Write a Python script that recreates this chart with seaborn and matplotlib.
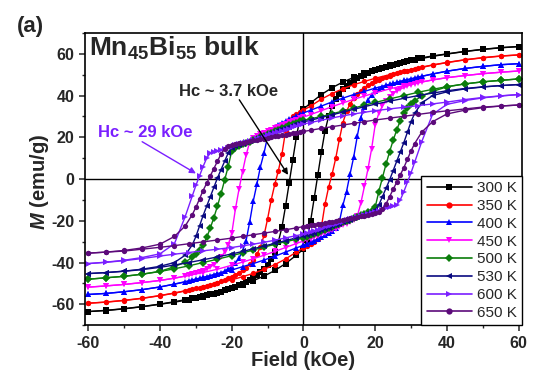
import pandas as pd
import seaborn as sns
import matplotlib.pyplot as plt
from matplotlib.lines import Line2D
from matplotlib.ticker import MultipleLocator

# field sweep (kOe), descending 60 -> -60 and ascending -60 -> 60
field_down = [60, 55, 50, 45, 40, 36, 32, 28, 24, 20, 17, 14, 11, 8, 5, 2, 0,
              -1, -2, -3, -4, -5, -6, -7, -8, -9, -10, -11, -12, -13, -14, -15,
              -16, -17, -18, -19, -20, -21, -22, -23, -24, -25, -26, -27, -28,
              -29, -30, -31, -33, -36, -40, -45, -50, -55, -60]
field_up = [-60, -55, -50, -45, -40, -36, -32, -28, -24, -20, -17, -14, -11, -8, -5, -2, 0,
            1, 2, 3, 4, 5, 6, 7, 8, 9, 10, 11, 12, 13, 14, 15,
            16, 17, 18, 19, 20, 21, 22, 23, 24, 25, 26, 27, 28,
            29, 30, 31, 33, 36, 40, 45, 50, 55, 60]

temps = ['300 K', '350 K', '400 K', '450 K', '500 K', '530 K', '600 K', '650 K']

# magnetization (emu/g)
m300_down = [63.5, 63.0, 62.2, 61.2, 60.0, 59.0, 57.8, 56.3, 54.5, 52.3, 50.6, 48.7, 46.5, 43.8, 40.5, 36.5, 33.5,
             29, 20, 9, -2, -13, -23, -30, -35, -38.5, -41, -43, -44.6, -46, -47.2, -48.3,
             -49.2, -50.1, -50.9, -51.6, -52.3, -52.9, -53.4, -53.9, -54.4, -54.9, -55.3, -55.7, -56.1,
             -56.5, -56.9, -57.2, -57.8, -58.8, -59.9, -61.1, -62.1, -62.9, -63.5]
m300_up = [-63.5, -63.0, -62.2, -61.2, -60.0, -59.0, -57.8, -56.3, -54.5, -52.3, -50.6, -48.7, -46.5, -43.8, -40.5, -36.5, -33.5,
           -29, -20, -9, 2, 13, 23, 30, 35, 38.5, 41, 43, 44.6, 46, 47.2, 48.3,
           49.2, 50.1, 50.9, 51.6, 52.3, 52.9, 53.4, 53.9, 54.4, 54.9, 55.3, 55.7, 56.1,
           56.5, 56.9, 57.2, 57.8, 58.8, 59.9, 61.1, 62.1, 62.9, 63.5]

m350_down = [59.5, 59.0, 58.2, 57.2, 55.9, 54.7, 53.3, 51.7, 50.0, 48.3, 46.8, 45.2, 43.3, 41.0, 38.3, 35.0, 33.0,
             32, 31, 30, 28.5, 23, 12, 4, -2.5, -10, -19, -27, -32.5, -36, -38.8, -40.8,
             -42.4, -43.7, -44.9, -45.9, -46.8, -47.6, -48.3, -49, -49.6, -50.2, -50.7, -51.2, -51.6,
             -52, -52.4, -52.8, -53.5, -54.6, -55.8, -57.1, -58.1, -58.9, -59.5]
m350_up = [-59.5, -59.0, -58.2, -57.2, -55.9, -54.7, -53.3, -51.7, -50.0, -48.3, -46.8, -45.2, -43.3, -41.0, -38.3, -35.0, -33.0,
           -32, -31, -30, -28.5, -23, -12, -4, 2.5, 10, 19, 27, 32.5, 36, 38.8, 40.8,
           42.4, 43.7, 44.9, 45.9, 46.8, 47.6, 48.3, 49, 49.6, 50.2, 50.7, 51.2, 51.6,
           52, 52.4, 52.8, 53.5, 54.6, 55.8, 57.1, 58.1, 58.9, 59.5]

m400_down = [55.3, 54.8, 54.0, 53.0, 51.7, 50.4, 48.9, 47.3, 45.4, 43.6, 42.0, 40.5, 38.8, 37.0, 35.0, 33.0, 31.7,
             31, 30.2, 29.5, 28.7, 27.9, 27, 26, 25, 23.5, 20.5, 12.5, 6, -2.5, -10.5, -20.5,
             -29.5, -34.5, -38, -40.3, -42, -43.2, -44.1, -44.9, -45.3, -45.8, -46.3, -46.7, -47.1,
             -47.5, -47.9, -48.3, -49.2, -50.3, -51.7, -53.0, -54.0, -54.8, -55.3]
m400_up = [-55.3, -54.8, -54.0, -53.0, -51.7, -50.4, -48.9, -47.3, -45.4, -43.6, -42.0, -40.5, -38.8, -37.0, -35.0, -33.0, -31.7,
           -31, -30.2, -29.5, -28.7, -27.9, -27, -26, -25, -23.5, -20.5, -12.5, -6, 2.5, 10.5, 20.5,
           29.5, 34.5, 38, 40.3, 42, 43.2, 44.1, 44.9, 45.3, 45.8, 46.3, 46.7, 47.1,
           47.5, 47.9, 48.3, 49.2, 50.3, 51.7, 53.0, 54.0, 54.8, 55.3]

m450_down = [51.8, 51.2, 50.5, 49.6, 48.6, 47.5, 46.2, 44.8, 43.2, 41.3, 39.8, 38.2, 36.5, 34.7, 32.8, 30.9, 29.7,
             29.1, 28.5, 27.9, 27.2, 26.5, 25.8, 25.1, 24.4, 23.7, 23, 22.2, 21.4, 20.6, 19.6, 17.8,
             11.5, 3.5, -5, -14.5, -26, -31.5, -35, -37.5, -39.5, -41, -42.2, -43.1, -43.9,
             -44.6, -45.2, -45.7, -46.5, -47.5, -48.6, -49.6, -50.5, -51.2, -51.8]
m450_up = [-51.8, -51.2, -50.5, -49.6, -48.6, -47.5, -46.2, -44.8, -43.2, -41.3, -39.8, -38.2, -36.5, -34.7, -32.8, -30.9, -29.7,
           -29.1, -28.5, -27.9, -27.2, -26.5, -25.8, -25.1, -24.4, -23.7, -23, -22.2, -21.4, -20.6, -19.6, -17.8,
           -11.5, -3.5, 5, 14.5, 26, 31.5, 35, 37.5, 39.5, 41, 42.2, 43.1, 43.9,
           44.6, 45.2, 45.7, 46.5, 47.5, 48.6, 49.6, 50.5, 51.2, 51.8]

m500_down = [48.0, 47.3, 46.6, 45.6, 44.3, 43.0, 41.6, 40.0, 38.4, 36.7, 35.4, 34.0, 32.6, 31.3, 30.0, 28.9, 28.2,
             27.6, 27, 26.3, 25.7, 25, 24.3, 23.6, 22.9, 22.2, 21.5, 20.8, 20.1, 19.4, 18.7, 18,
             17.3, 16.6, 15.9, 15.1, 13.5, 6, -0.5, -7, -13, -18.5, -23.5, -28, -31.5,
             -34, -36, -37.5, -39.8, -42, -44.2, -45.6, -46.6, -47.3, -48.0]
m500_up = [-48.0, -47.3, -46.6, -45.6, -44.3, -43.0, -41.6, -40.0, -38.4, -36.7, -35.4, -34.0, -32.6, -31.3, -30.0, -28.9, -28.2,
           -27.6, -27, -26.3, -25.7, -25, -24.3, -23.6, -22.9, -22.2, -21.5, -20.8, -20.1, -19.4, -18.7, -18,
           -17.3, -16.6, -15.9, -15.1, -13.5, -6, 0.5, 7, 13, 18.5, 23.5, 28, 31.5,
           34, 36, 37.5, 39.8, 42, 44.2, 45.6, 46.6, 47.3, 48.0]

m530_down = [45.3, 44.8, 44.2, 43.4, 42.3, 41.2, 40.0, 38.7, 37.3, 35.9, 34.7, 33.4, 32.1, 30.8, 29.5, 28.2, 27.4,
             26.9, 26.3, 25.7, 25.1, 24.5, 23.9, 23.3, 22.6, 22, 21.4, 20.7, 20.1, 19.5, 18.8, 18.2,
             17.6, 17, 16.3, 15.7, 15, 12.5, 8.5, 4.5, 0.5, -4, -8.5, -13, -17.5,
             -22.5, -27.5, -31.5, -36.5, -40.0, -41.8, -43.2, -44.1, -44.8, -45.3]
m530_up = [-45.3, -44.8, -44.2, -43.4, -42.3, -41.2, -40.0, -38.7, -37.3, -35.9, -34.7, -33.4, -32.1, -30.8, -29.5, -28.2, -27.4,
           -26.9, -26.3, -25.7, -25.1, -24.5, -23.9, -23.3, -22.6, -22, -21.4, -20.7, -20.1, -19.5, -18.8, -18.2,
           -17.6, -17, -16.3, -15.7, -15, -12.5, -8.5, -4.5, -0.5, 4, 8.5, 13, 17.5,
           22.5, 27.5, 31.5, 36.5, 40.0, 41.8, 43.2, 44.1, 44.8, 45.3]

m600_down = [40.5, 39.9, 39.1, 38.1, 36.9, 36.0, 35.2, 34.4, 33.6, 32.8, 32.0, 31.2, 30.3, 29.3, 28.2, 27.1, 26.4,
             25.9, 25.3, 24.8, 24.2, 23.7, 23.1, 22.6, 22, 21.5, 20.9, 20.4, 19.8, 19.3, 18.7, 18.2,
             17.6, 17.1, 16.6, 16.1, 15.6, 15.1, 14.6, 14.1, 13.6, 13.1, 12.5, 10, 6,
             1.5, -3, -8, -18, -31, -35.8, -37.6, -38.9, -39.8, -40.5]
m600_up = [-40.5, -39.9, -39.1, -38.1, -36.9, -36.0, -35.2, -34.4, -33.6, -32.8, -32.0, -31.2, -30.3, -29.3, -28.2, -27.1, -26.4,
           -25.9, -25.3, -24.8, -24.2, -23.7, -23.1, -22.6, -22, -21.5, -20.9, -20.4, -19.8, -19.3, -18.7, -18.2,
           -17.6, -17.1, -16.6, -16.1, -15.6, -15.1, -14.6, -14.1, -13.6, -13.1, -12.5, -10, -6,
           -1.5, 3, 8, 18, 31, 35.8, 37.6, 38.9, 39.8, 40.5]

m650_down = [35.5, 35.0, 34.5, 33.6, 32.7, 31.9, 31.0, 30.1, 29.2, 28.3, 27.5, 26.7, 25.9, 25.1, 24.3, 23.4, 22.8,
             22.5, 22.2, 21.9, 21.6, 21.3, 21, 20.7, 20.4, 20.1, 19.7, 19.4, 19.1, 18.8, 18.5, 18.1,
             17.8, 17.5, 17.1, 16.8, 16.4, 16, 14.5, 12, 8.5, 5, 1.5, -2, -5.5,
             -9.5, -13.5, -17, -22.5, -27.5, -31.2, -33.0, -34.2, -35.0, -35.5]
m650_up = [-35.5, -35.0, -34.5, -33.6, -32.7, -31.9, -31.0, -30.1, -29.2, -28.3, -27.5, -26.7, -25.9, -25.1, -24.3, -23.4, -22.8,
           -22.5, -22.2, -21.9, -21.6, -21.3, -21, -20.7, -20.4, -20.1, -19.7, -19.4, -19.1, -18.8, -18.5, -18.1,
           -17.8, -17.5, -17.1, -16.8, -16.4, -16, -14.5, -12, -8.5, -5, -1.5, 2, 5.5,
           9.5, 13.5, 17, 22.5, 27.5, 31.2, 33.0, 34.2, 35.0, 35.5]

loops_down = [m300_down, m350_down, m400_down, m450_down, m500_down, m530_down, m600_down, m650_down]
loops_up = [m300_up, m350_up, m400_up, m450_up, m500_up, m530_up, m600_up, m650_up]

colors = ['#000000', '#ff0000', '#0000ff', '#ff00ff', '#0b7d0b', '#0a0a80', '#7a1fff', '#5c0a7a']
marks = ['s', 'o', '^', 'v', 'D', '<', '>', 'o']
color_map = dict(zip(temps, colors))
marker_map = dict(zip(temps, marks))

rows = []
for t, md, mu in zip(temps, loops_down, loops_up):
    for h, m in zip(field_down, md):
        rows.append((t, 'down', h, m))
    for h, m in zip(field_up, mu):
        rows.append((t, 'up', h, m))
df = pd.DataFrame(rows, columns=['temp', 'branch', 'field', 'M'])

sns.set_style('ticks')
plt.rcParams['font.family'] = ['Liberation Sans', 'DejaVu Sans']
plt.rcParams['axes.unicode_minus'] = False
plt.rcParams['mathtext.fontset'] = 'custom'
plt.rcParams['mathtext.rm'] = 'Liberation Sans'
plt.rcParams['mathtext.bf'] = 'Liberation Sans:bold'
plt.rcParams['mathtext.it'] = 'Liberation Sans:italic'
plt.rcParams['mathtext.bfit'] = 'Liberation Sans:italic:bold'

fig = plt.figure(figsize=(5.4, 3.75), dpi=100)
ax = fig.add_axes([0.157, 0.133, 0.81, 0.779])

ax.axhline(0, color='k', lw=1, zorder=0.5)
ax.axvline(0, color='k', lw=1, zorder=0.5)

sns.lineplot(data=df, x='field', y='M', hue='temp', style='temp', units='branch',
             estimator=None, sort=False, palette=color_map, markers=marker_map,
             dashes=False, lw=1, ms=3.8, mew=0, legend=False, ax=ax)

ax.set_xlim(-61, 61)
ax.set_ylim(-70, 70)
ax.set_xticks(range(-60, 61, 20))
ax.set_yticks(range(-60, 61, 20))
ax.xaxis.set_minor_locator(MultipleLocator(10))
ax.yaxis.set_minor_locator(MultipleLocator(10))
ax.tick_params(which='major', direction='out', length=4.5, width=1.1, labelsize=11.5, pad=3)
ax.tick_params(which='minor', direction='out', length=2.5, width=1)
for lab in ax.get_xticklabels() + ax.get_yticklabels():
    lab.set_fontweight('bold')
for sp in ax.spines.values():
    sp.set_visible(True)
    sp.set_linewidth(1.2)
    sp.set_color('k')

ax.set_xlabel('Field (kOe)', fontsize=14.5, fontweight='bold', va='center')
ax.set_ylabel(r'$\mathbfit{M}$ (emu/g)', fontsize=14.5, fontweight='bold', va='center')
ax.xaxis.set_label_coords(0.5, -0.12)
ax.yaxis.set_label_coords(-0.103, 0.49)

ax.text(-59.8, 62.5, r'$\mathbf{Mn_{45}Bi_{55}}$ bulk', fontsize=19, fontweight='bold',
        ha='left', va='center')
fig.text(0.031, 0.93, '(a)', fontsize=16, fontweight='bold', ha='left', va='center')

ax.text(-21, 42.2, 'Hc ~ 3.7 kOe', fontsize=12, fontweight='bold', ha='center', va='center')
ax.annotate('', xy=(-4.3, 2), xytext=(-17.9, 38),
            arrowprops=dict(arrowstyle='-|>', color='k', lw=1, mutation_scale=9,
                            shrinkA=0, shrinkB=0))
ax.text(-44.1, 22.4, 'Hc ~ 29 kOe', fontsize=12, fontweight='bold', color='#7a1fff',
        ha='center', va='center')
ax.annotate('', xy=(-30, 2.7), xytext=(-45, 17.9),
            arrowprops=dict(arrowstyle='-|>', color='#7a1fff', lw=1, mutation_scale=9,
                            shrinkA=0, shrinkB=0))

handles = [Line2D([0], [0], color=c, marker=m, lw=1.2, ms=4.5, mew=0) for c, m in zip(colors, marks)]
leg = ax.legend(handles, temps, loc='lower right', fontsize=11, frameon=True, fancybox=False,
                edgecolor='k', framealpha=1, borderaxespad=0, handlelength=3.0,
                handletextpad=0.3, labelspacing=0.25, borderpad=0.35)
leg.get_frame().set_linewidth(1)

fig.savefig('out.png', dpi=100)
